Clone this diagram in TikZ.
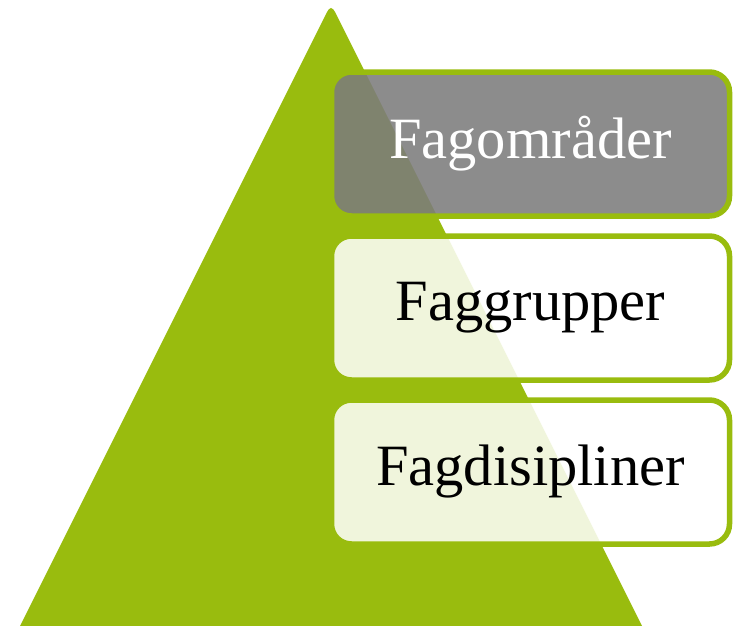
\documentclass[tikz,border=0pt]{standalone}
\usepackage{fontspec}
\setmainfont{Liberation Serif}
\definecolor{pgreen}{HTML}{99BC0E}
\definecolor{pgray}{HTML}{7C7C7C}
\tikzset{
  tier/.style={draw=pgreen, line width=5.5pt, rounded corners=20pt,
    minimum width=398pt, minimum height=144pt, inner sep=0pt,
    font=\fontsize{58.5}{70}\selectfont},
  toptier/.style={tier, fill=pgray, fill opacity=0.88, text opacity=1, text=white},
  lowtier/.style={tier, fill=white, fill opacity=0.86, text opacity=1, text=black}
}
\begin{document}
\begin{tikzpicture}[x=1pt,y=-1pt]
\useasboundingbox (0,0) rectangle (736,625);
\fill[pgreen] (20,626) -- (327,12) [rounded corners=4pt] -- (331,6) [sharp corners] -- (335,12) -- (642,626) -- cycle;
\node[toptier] (t1) at (530.5,144) {Fagområder};
\node[lowtier] (t2) at (530.5,308) {Faggrupper};
\node[lowtier] (t3) at (530.5,472) {Fagdisipliner};
\end{tikzpicture}
\end{document}
